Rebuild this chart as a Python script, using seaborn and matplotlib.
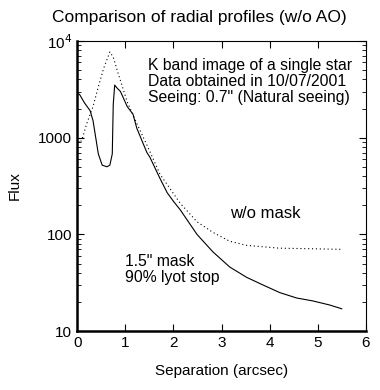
# 동경 프로파일 비교 (AO 없음)
import pandas as pd
import matplotlib
matplotlib.use("Agg")
import matplotlib.pyplot as plt
import matplotlib.ticker as mticker
import seaborn as sns

# 데이터
sep_mask = [0, 0.05, 0.15, 0.27, 0.33, 0.44, 0.52, 0.62, 0.68, 0.73, 0.75, 0.78,
            0.82, 0.9, 1.04, 1.16, 1.24, 1.45, 1.51, 1.72, 1.87, 2.0, 2.14, 2.49,
            2.82, 3.17, 3.52, 3.86, 4.21, 4.56, 4.9, 5.25, 5.5]
flux_mask = [2900, 2800, 2300, 1900, 1500, 680, 520, 500, 520, 680, 2200, 3500,
             3300, 3000, 2100, 1750, 1250, 700, 630, 380, 270, 220, 180, 100,
             66, 46, 36, 30, 25, 22, 20.5, 18.6, 17]

sep_nomask = [0, 0.05, 0.1, 0.2, 0.33, 0.45, 0.55, 0.68, 0.75, 0.85, 1.04, 1.2,
              1.5, 1.72, 2.14, 2.49, 2.82, 3.17, 3.52, 4.21, 4.9, 5.5]
flux_nomask = [1000, 880, 950, 1400, 2100, 3500, 5200, 7700, 6800, 4650, 2350, 1550,
               740, 420, 210, 135, 105, 85, 77, 72, 71, 70]

df_mask = pd.DataFrame({"sep": sep_mask, "flux": flux_mask})
df_nomask = pd.DataFrame({"sep": sep_nomask, "flux": flux_nomask})

sns.set_style("ticks")
plt.rcParams["font.family"] = ["Liberation Sans", "DejaVu Sans"]
plt.rcParams["text.color"] = "black"
plt.rcParams["axes.labelcolor"] = "black"

fig = plt.figure(figsize=(3.8, 3.9), dpi=100)
ax = fig.add_axes([0.203, 0.151, 0.76, 0.744])

sns.lineplot(data=df_nomask, x="sep", y="flux", ax=ax, color="black",
             linewidth=0.8, linestyle=(0, (1, 2.5)))
sns.lineplot(data=df_mask, x="sep", y="flux", ax=ax, color="black", linewidth=0.8)

ax.set_yscale("log")
ax.set_xlim(0, 6)
ax.set_ylim(10, 10000)
ax.set_xticks(range(0, 7))
ax.yaxis.set_major_locator(mticker.FixedLocator([10, 100, 1000, 10000]))
ax.yaxis.set_major_formatter(mticker.FixedFormatter(["10", "100", "1000", r"10$^4$"]))
ax.yaxis.set_minor_locator(mticker.LogLocator(base=10, subs=range(2, 10)))
ax.yaxis.set_minor_formatter(mticker.NullFormatter())

ax.tick_params(which="both", direction="in", top=True, right=True, labelsize=11,
               color="black", labelcolor="black")
ax.tick_params(which="major", length=5, width=0.8)
ax.tick_params(which="minor", length=3, width=0.6)

for side in ["left", "bottom"]:
    ax.spines[side].set_linewidth(1.8)
for side in ["top", "right"]:
    ax.spines[side].set_linewidth(0.8)
for sp in ax.spines.values():
    sp.set_color("black")

ax.set_xlabel("Separation (arcsec)", fontsize=11, labelpad=10)
ax.set_ylabel("Flux", fontsize=11, labelpad=12)
fig.text(0.524, 0.956, "Comparison of radial profiles (w/o AO)", fontsize=12.5,
         ha="center", va="center")

ax.text(1.47, 6600, "K band image of a single star\nData obtained in 10/07/2001\nSeeing: 0.7\" (Natural seeing)",
        fontsize=11.3, va="top", linespacing=1.05)
ax.text(3.17, 166, "w/o mask", fontsize=12, va="center")
ax.text(1.0, 62, "1.5\" mask\n90% lyot stop", fontsize=11.3, va="top", linespacing=1.05)

plt.savefig("out.png", dpi=100)
